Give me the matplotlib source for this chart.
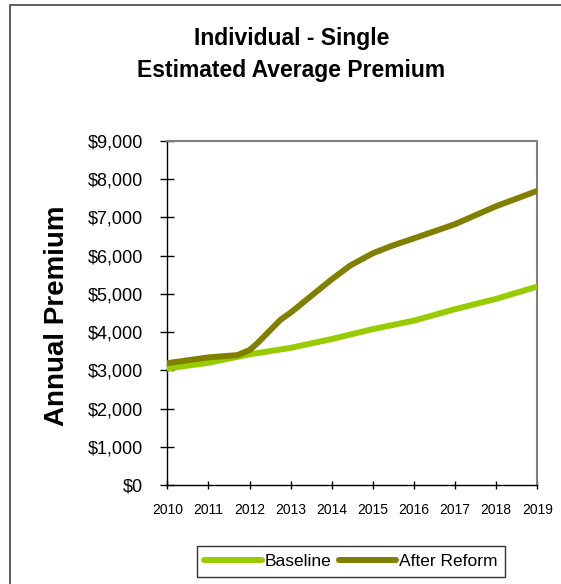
import matplotlib
matplotlib.use("Agg")
import matplotlib.pyplot as plt
from matplotlib.patches import Rectangle

plt.rcParams['font.family'] = ['Liberation Sans', 'DejaVu Sans']

# Data
years = [2010, 2011, 2012, 2013, 2014, 2015, 2016, 2017, 2018, 2019]
baseline = [3050, 3200, 3420, 3590, 3820, 4080, 4300, 4600, 4870, 5190]

reform_x = [2010.0, 2011.0, 2011.7, 2012.0, 2012.2, 2012.75, 2013.0, 2014.0,
            2014.45, 2015.0, 2015.45, 2016.0, 2017.0, 2018.0, 2019.0]
reform_y = [3190, 3340, 3400, 3530, 3720, 4320, 4510, 5380,
            5740, 6060, 6250, 6450, 6820, 7290, 7690]

yticks = [0, 1000, 2000, 3000, 4000, 5000, 6000, 7000, 8000, 9000]
ytick_labels = ["$0", "$1,000", "$2,000", "$3,000", "$4,000", "$5,000",
                "$6,000", "$7,000", "$8,000", "$9,000"]

title_lines = ["Individual - Single", "Estimated Average Premium"]
ylabel = "Annual Premium"
series_names = ["Baseline", "After Reform"]
colors = ["#99CC00", "#808000"]

W, H = 561, 584
fig = plt.figure(figsize=(W / 100, H / 100), dpi=100)
fig.patch.set_facecolor("white")

# figure border (cropped at right and bottom)
fig.patches.append(Rectangle((10 / W, -0.05), 1.2, (H - 4.5) / H + 0.05,
                             transform=fig.transFigure, fill=False,
                             edgecolor="#333333", linewidth=1.1))

ax = fig.add_axes([167.3 / W, (H - 485.3) / H, 370 / W, 344.6 / H])
ax.plot(years, baseline, color=colors[0], linewidth=4.3, label=series_names[0],
        solid_joinstyle="round", zorder=3)
ax.plot(reform_x, reform_y, color=colors[1], linewidth=4.3, label=series_names[1],
        solid_joinstyle="round", zorder=4)

ax.set_xlim(2010, 2019)
ax.set_ylim(0, 9000)
ax.set_xticks(years)
ax.set_xticklabels([str(y) for y in years], fontsize=10)
ax.set_yticks(yticks)
ax.set_yticklabels(ytick_labels, fontsize=13)

ax.tick_params(axis="y", direction="inout", length=10, width=1, pad=12.5, color="black")
ax.tick_params(axis="x", direction="inout", length=5.8, width=1, pad=9.8, color="black")

for s in ["left", "bottom"]:
    ax.spines[s].set_color("black")
    ax.spines[s].set_linewidth(1.0)
for s in ["top", "right"]:
    ax.spines[s].set_color("#808080")
    ax.spines[s].set_linewidth(1.5)

fig.text(291.5 / W, (H - 38) / H, title_lines[0], ha="center", va="center",
         fontsize=16.5, fontweight="bold")
fig.text(291.5 / W, (H - 71) / H, title_lines[1], ha="center", va="center",
         fontsize=16.5, fontweight="bold")
fig.text(57 / W, (H - 316) / H, ylabel, ha="center", va="center", rotation=90,
         fontsize=20, fontweight="bold")

leg = fig.legend(loc="center", bbox_to_anchor=(351 / W, (H - 561.5) / H), ncol=2,
                 fontsize=12.5, frameon=True, fancybox=False, handlelength=3.3,
                 handletextpad=0.18, columnspacing=0.4, borderpad=0.45)
leg.get_frame().set_edgecolor("black")
leg.get_frame().set_linewidth(1.0)
for l in leg.get_lines():
    l.set_linewidth(4.3)
    l.set_solid_capstyle("round")

fig.savefig("out.png", dpi=100)
